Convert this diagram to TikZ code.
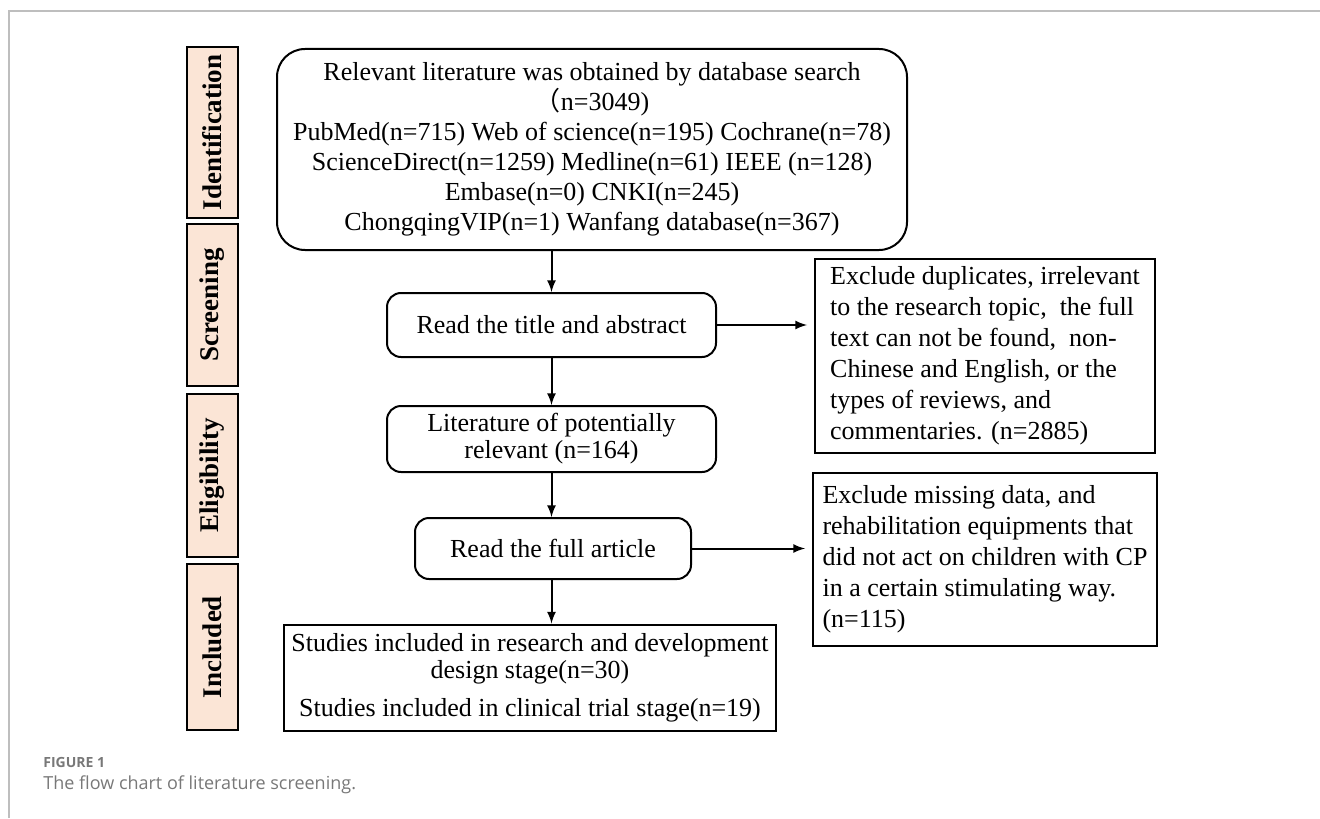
\documentclass[tikz,border=0pt]{standalone}
\usepackage{fontspec}
\setmainfont{Liberation Serif}
\newfontfamily\capfont{Open Sans}
\newfontfamily\cjk{Noto Sans CJK SC}
\usetikzlibrary{arrows,positioning}

\definecolor{stagefill}{RGB}{251,229,214}
\definecolor{framegray}{RGB}{190,190,190}
\definecolor{capgray}{RGB}{120,120,120}

\tikzset{
  stage/.style={draw, line width=1pt, fill=stagefill, rotate=90,
    font=\bfseries\fontsize{13.5}{15}\selectfont, inner sep=0pt},
  roundbox/.style={draw, line width=1pt, rounded corners=7pt, align=center,
    inner sep=0pt, font=\fontsize{13}{13.5}\selectfont},
  plainbox/.style={draw, line width=1pt, inner sep=0pt,
    font=\fontsize{13}{15.5}\selectfont},
  flow/.style={->, >=latex, line width=1pt}
}

\begin{document}
\begin{tikzpicture}[x=0.5pt,y=-0.5pt]

  \useasboundingbox (0,0) rectangle (1320,818);

  % page frame
  \draw[framegray, line width=1pt] (9,818) -- (9,11) -- (1320,11);

  % stage labels on the left
  \def\stagex{212.5}
  \node[stage, minimum width=85.5pt, minimum height=25.5pt] (ident) at (\stagex,132.5) {Identification};
  \node[stage, minimum width=81pt, minimum height=25.5pt] (screen) at (\stagex,305) {Screening};
  \node[stage, minimum width=81.5pt, minimum height=25.5pt] (elig) at (\stagex,475.5) {Eligibility};
  \node[stage, minimum width=83pt, minimum height=25.5pt] (incl) at (\stagex,647) {Included};

  % main flow
  \node[roundbox, rounded corners=14pt, minimum width=315pt, minimum height=100.5pt,
    font=\fontsize{13}{15}\selectfont] (search) at (592,149.5)
    {Relevant literature was obtained by database search\\
     {\cjk （}n=3049)\\
     PubMed(n=715) Web of science(n=195) Cochrane(n=78)\\
     ScienceDirect(n=1259) Medline(n=61) IEEE (n=128)\\
     Embase(n=0) CNKI(n=245)\\
     ChongqingVIP(n=1) Wanfang database(n=367)};
  \node[roundbox, minimum width=164.5pt, minimum height=32pt] (titleabs) at (551.5,325)
    {Read the title and abstract};
  \node[roundbox, minimum width=164.5pt, minimum height=33pt] (potential) at (551.5,439)
    {Literature of potentially\\ relevant (n=164)};
  \node[roundbox, minimum width=138pt, minimum height=30.5pt] (fullart) at (553,548.5)
    {Read the full article};
  \node[plainbox, align=center, minimum width=246pt, minimum height=53pt,
    font=\fontsize{13}{13.5}\selectfont] (included) at (530,677.5)
    {Studies included in research and development\\ design stage(n=30)\\[5.5pt]
     Studies included in clinical trial stage(n=19)};

  % exclusions
  \node[plainbox, align=left, minimum width=170pt, minimum height=97pt]
    (excl1) at (985,356)
    {Exclude duplicates, irrelevant\\
     to the research topic,\ \ the full\\
     text can not be found,\ \ non-\\
     Chinese and English, or the\\
     types of reviews, and\\
     commentaries. (n=2885)};
  \node[plainbox, align=left, minimum width=172pt, minimum height=86.5pt]
    (excl2) at (985,559.5)
    {Exclude missing data, and\\
     rehabilitation equipments that\\
     did not act on children with CP\\
     in a certain stimulating way.\\
     (n=115)};

  % connectors
  \draw[flow] (search.south -| titleabs.north) -- (titleabs.north);
  \draw[flow] (titleabs.south) -- (potential.north);
  \draw[flow] (potential.south) -- (potential.south |- fullart.north);
  \draw[flow] (fullart.south -| potential.south) -- (potential.south |- included.north);
  \draw[flow, shorten >=3.5pt] (titleabs.east) -- (excl1.west |- titleabs.east);
  \draw[flow, shorten >=3.5pt] (fullart.east) -- (excl2.west |- fullart.east);

  % caption
  \node[anchor=west, inner sep=0pt, text=capgray, font=\capfont\fontsize{7}{9}\selectfont\bfseries]
    (figlabel) at (43,762) {FIGURE 1};
  \node[anchor=west, inner sep=0pt, text=capgray, font=\capfont\fontsize{9}{11}\selectfont]
    (figcaption) at (43,785) {The flow chart of literature screening.};

\end{tikzpicture}
\end{document}
